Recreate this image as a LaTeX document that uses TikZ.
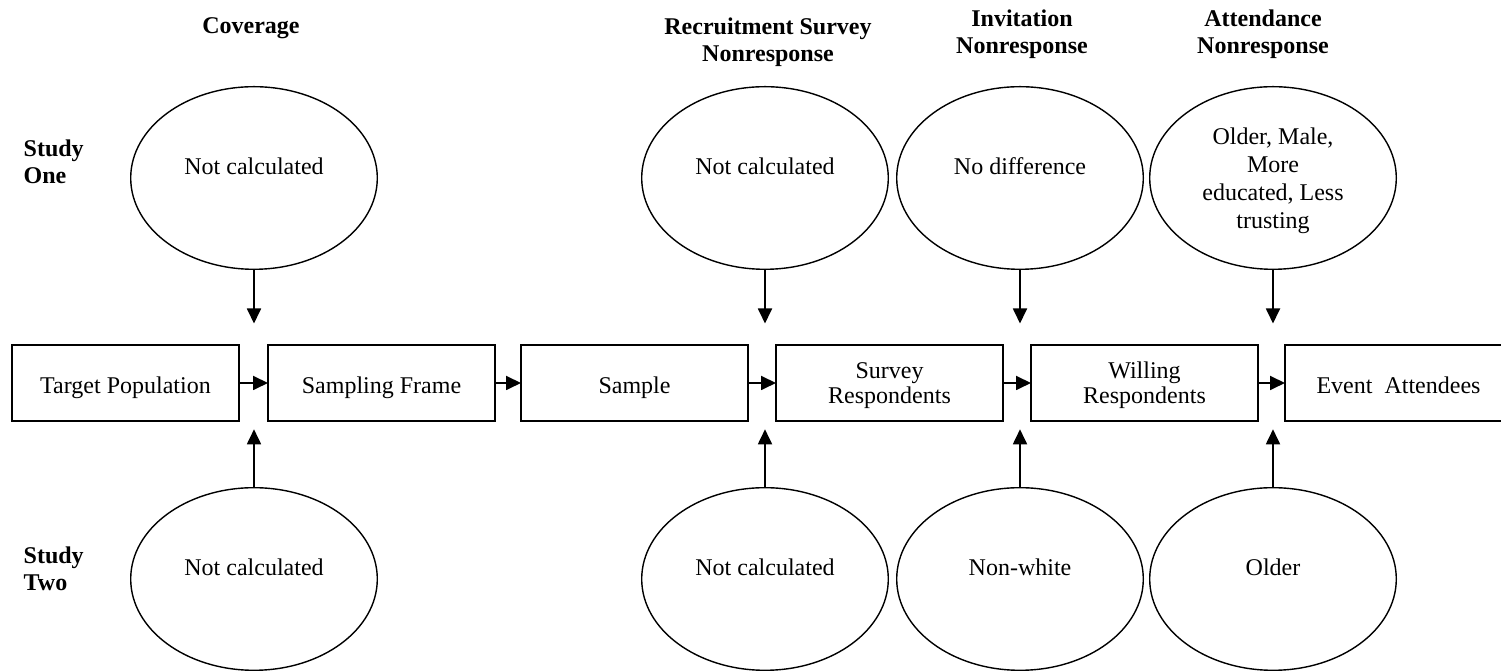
\documentclass[tikz,border=0pt]{standalone}
\usepackage{fontspec}
\setmainfont{Liberation Serif}
\usetikzlibrary{shapes.geometric,arrows.meta}
\begin{document}
\begin{tikzpicture}[x=0.5pt,y=-0.5pt,
  stage/.style={draw, line width=1pt, minimum width=113.5pt, minimum height=38pt, inner sep=0pt, outer sep=0pt, align=center, font=\fontsize{12}{12.5}\selectfont},
  single/.style={text height=13pt, text depth=2pt},
  double/.style={text depth=0pt},
  oval/.style={draw, ellipse, line width=0.7pt, minimum width=123.3pt, minimum height=91.3pt, inner sep=0pt, outer sep=0pt, align=center, font=\fontsize{12}{14}\selectfont},
  oneline/.style={text height=8pt, text depth=11pt},
  head/.style={align=center, anchor=base, font=\fontsize{12}{13.4}\selectfont\bfseries},
  side/.style={align=left, anchor=base west, inner sep=0pt, font=\fontsize{12}{13.4}\selectfont\bfseries},
  flow/.style={line width=0.9pt, -{Triangle[length=7.5pt,width=7pt]}},
]
\useasboundingbox (0,0) rectangle (1501,672);

% headers (anchor base = baseline of last line)
\node[head] (hcov) at (251,33.3) {Coverage};
\node[head] (hrec) at (768,61.5) {Recruitment Survey\\Nonresponse};
\node[head] (hinv) at (1022,53.5) {Invitation\\Nonresponse};
\node[head] (hatt) at (1263,53.5) {Attendance\\Nonresponse};

% row labels
\node[side] (s1) at (23.3,183.3) {Study\\One};
\node[side] (s2) at (23.3,590.7) {Study\\Two};

% stages
\node[stage,single] (b1) at (125.5,383) {Target Population};
\node[stage,single] (b2) at (381.5,383) {Sampling Frame};
\node[stage,single] (b3) at (634.5,383) {Sample};
\node[stage,double] (b4) at (889.5,383) {Survey\\Respondents};
\node[stage,double] (b5) at (1144.5,383) {Willing\\Respondents};
\node[stage,single] (b6) at (1398.5,383) {Event\ \ Attendees};

% study one ellipses
\node[oval,oneline] (t1) at (254,178) {Not calculated};
\node[oval,oneline] (t2) at (765,178) {Not calculated};
\node[oval,oneline] (t3) at (1020,178) {No difference};
\node[oval,text depth=0pt] (t4) at (1273,178) {Older, Male,\\More\\educated, Less\\trusting};

% study two ellipses
\node[oval,oneline] (u1) at (254,579) {Not calculated};
\node[oval,oneline] (u2) at (765,579) {Not calculated};
\node[oval,oneline] (u3) at (1020,579) {Non-white};
\node[oval,oneline] (u4) at (1273,579) {Older};

% arrow end points
\coordinate (ta1) at (254,323.5);
\coordinate (ta2) at (765,323.5);
\coordinate (ta3) at (1020,323.5);
\coordinate (ta4) at (1273,323.5);
\coordinate (ua1) at (254,429.3);
\coordinate (ua2) at (765,429.3);
\coordinate (ua3) at (1020,429.3);
\coordinate (ua4) at (1273,429.3);

% flow arrows
\draw[flow] (b1) -- (b2);
\draw[flow] (b2) -- (b3);
\draw[flow] (b3) -- (b4);
\draw[flow] (b4) -- (b5);
\draw[flow] (b5) -- (b6);

\draw[flow] (t1.south) -- (ta1);
\draw[flow] (t2.south) -- (ta2);
\draw[flow] (t3.south) -- (ta3);
\draw[flow] (t4.south) -- (ta4);
\draw[flow] (u1.north) -- (ua1);
\draw[flow] (u2.north) -- (ua2);
\draw[flow] (u3.north) -- (ua3);
\draw[flow] (u4.north) -- (ua4);
\end{tikzpicture}
\end{document}
